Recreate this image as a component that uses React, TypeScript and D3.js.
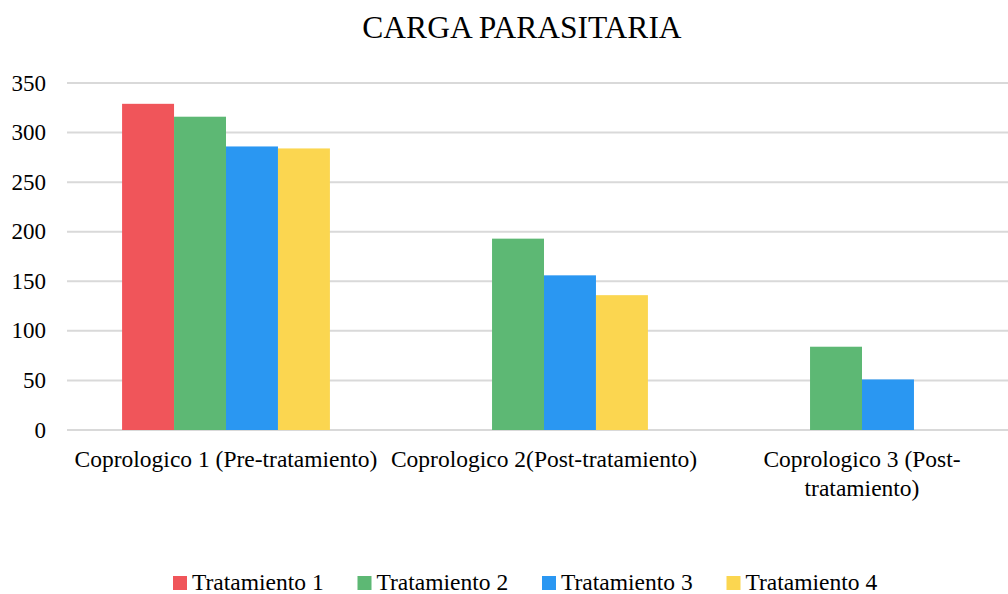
import React from 'react';
import * as d3 from 'd3';

const categories = [
  ['Coprologico 1 (Pre-tratamiento)'],
  ['Coprologico 2(Post-tratamiento)'],
  ['Coprologico 3 (Post-', 'tratamiento)'],
];
const seriesNames = ['Tratamiento 1', 'Tratamiento 2', 'Tratamiento 3', 'Tratamiento 4'];
const tratamiento1 = [329, 0, 0];
const tratamiento2 = [316, 193, 84];
const tratamiento3 = [286, 156, 51];
const tratamiento4 = [284, 136, 0];
const yTicks = [0, 50, 100, 150, 200, 250, 300, 350];
const colors = ['#F0555A', '#5DB874', '#2A97F2', '#FBD650'];

const width = 1008;
const height = 594;
const font = '"Liberation Serif", "Times New Roman", serif';

export default function App() {
  const values = [tratamiento1, tratamiento2, tratamiento3, tratamiento4];
  const catKeys = categories.map((c) => c.join(' '));

  const x0 = d3.scaleBand()
    .domain(catKeys)
    .range([67, 1021]);
  const x1 = d3.scaleBand()
    .domain(seriesNames)
    .range([0, x0.bandwidth()])
    .paddingOuter(1.06);
  const y = d3.scaleLinear()
    .domain([0, 350])
    .range([430, 83]);

  return (
    <svg
      width={width}
      height={height}
      style={{ position: 'absolute', left: 0, top: 0, background: '#fff', fontFamily: font }}
    >
      <text x={522} y={38} textAnchor="middle" fontSize={31.5} fill="#000">
        CARGA PARASITARIA
      </text>

      {yTicks.map((t) => (
        <g key={t}>
          <line x1={67} x2={width} y1={y(t)} y2={y(t)} stroke="#D9D9D9" strokeWidth={2} />
          <text x={46} y={y(t)} dy="0.33em" textAnchor="end" fontSize={23} fill="#000">
            {t}
          </text>
        </g>
      ))}

      {catKeys.map((cat, ci) => (
        <g key={cat} transform={`translate(${x0(cat)},0)`}>
          {seriesNames.map((s, si) => {
            const v = values[si][ci];
            if (!v) return null;
            return (
              <rect
                key={s}
                x={x1(s)}
                y={y(v)}
                width={x1.bandwidth()}
                height={y(0) - y(v)}
                fill={colors[si]}
              />
            );
          })}
          <text textAnchor="middle" fontSize={23.5} fill="#000">
            {categories[ci].map((line, li) => (
              <tspan key={line} x={x0.bandwidth() / 2} y={467 + li * 28.5}>{line}</tspan>
            ))}
          </text>
        </g>
      ))}

      {seriesNames.map((s, i) => (
        <g key={s} transform={`translate(${173 + i * 184.5},0)`}>
          <rect x={0} y={576} width={14} height={14} fill={colors[i]} />
          <text x={19} y={590} fontSize={23.5} fill="#000">{s}</text>
        </g>
      ))}
    </svg>
  );
}
